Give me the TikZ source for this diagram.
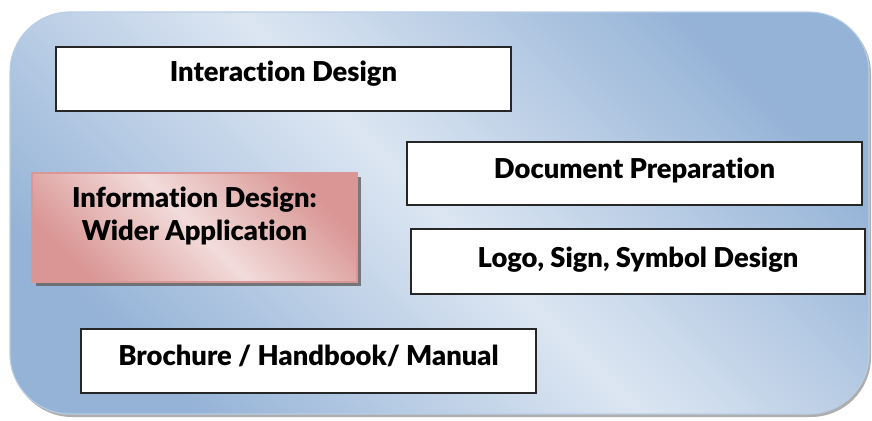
\documentclass[tikz,border=0pt]{standalone}
\usepackage{fontspec}
\setmainfont{Lato}[BoldFont={Lato Black}, Ligatures={NoCommon}]
\usetikzlibrary{shadows}
\definecolor{bgdark}{HTML}{95B3D7}
\definecolor{bglight}{HTML}{DCE6F2}
\definecolor{bgedge}{HTML}{B9CDE5}
\definecolor{pkdark}{HTML}{D99694}
\definecolor{pklight}{HTML}{F2DCDB}
\tikzset{
  lbl/.style={font=\fontsize{20.5}{24.75}\selectfont\bfseries, text=black},
  wbox/.style={lbl, draw=black!85, line width=1pt, fill=white,
    drop shadow={shadow xshift=0.8pt, shadow yshift=-0.8pt, fill=black!45, opacity=.6},
    text height=14.5pt},
  pbox/.style={lbl, draw=pkdark, line width=0.8pt,
    top color=pkdark, bottom color=pkdark, middle color=pklight, shading angle=-45,
    drop shadow={shadow xshift=3pt, shadow yshift=-3pt, fill=black!60, opacity=.85},
    align=center},
}
\begin{document}
\begin{tikzpicture}[x=0.75pt,y=-0.75pt]
\useasboundingbox (0,0) rectangle (872,421);
% outer panel
\fill[black!45, opacity=.7, rounded corners=45pt] (12,14) rectangle (871,417);
\shade[rounded corners=45pt, top color=bgdark, bottom color=bgdark, middle color=bglight, shading angle=-45]
  (10,12) rectangle (869,414);
\draw[bgedge, line width=0.8pt, rounded corners=45pt] (10,12) rectangle (869,414);
% boxes
\node[wbox, minimum width=341.25pt, minimum height=48pt, text depth=11.2pt] (inter) at (283.5,79) {Interaction Design};
\node[wbox, minimum width=341.25pt, minimum height=47.25pt, text depth=7.5pt] (doc) at (634.5,173.5) {Document Preparation};
\node[wbox, minimum width=340.5pt, minimum height=48.75pt, text depth=6pt] (logo) at (638,261.5) {Logo, Sign, Symbol Design};
\node[pbox, minimum width=243.75pt, minimum height=81.75pt, text depth=21pt] (info) at (194.5,227.5) {Information Design:\\Wider Application};
\node[wbox, minimum width=341.25pt, minimum height=48pt, text depth=8.25pt] (broch) at (308.5,361) {Brochure / Handbook/ Manual};
\end{tikzpicture}
\end{document}
